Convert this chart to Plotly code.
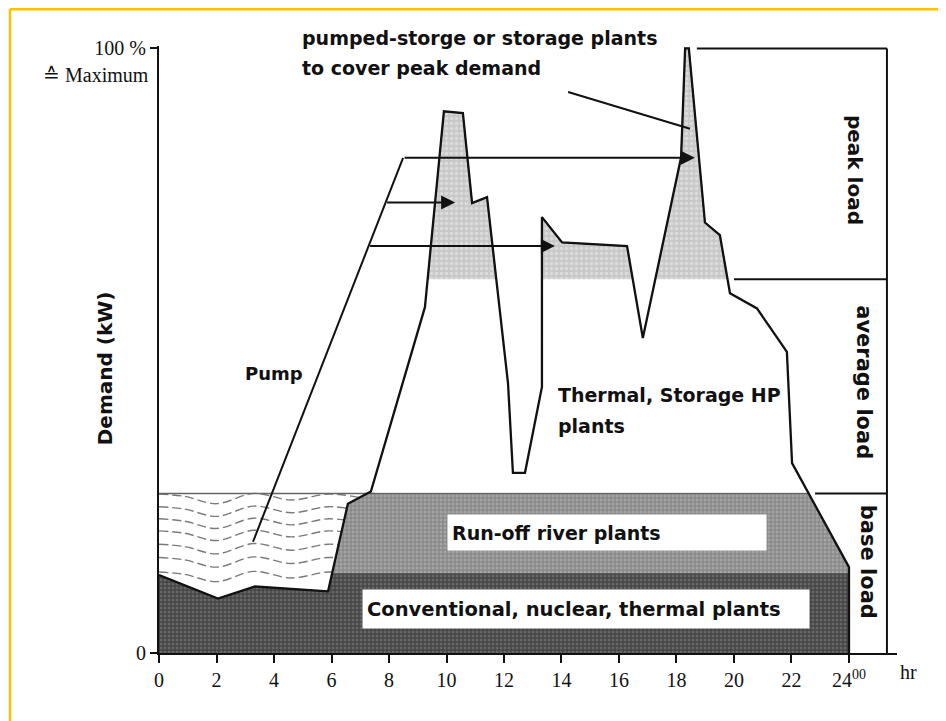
import plotly.graph_objects as go

# Daily load curve (hour of day, % of maximum demand)
hours = [0, 2.05, 3.34, 5.88, 6.57, 7.37, 9.25, 9.91, 10.57, 10.89, 11.41, 12.14, 12.31, 12.73,
         13.32, 13.32, 14.02, 16.28, 16.83, 18.16, 18.3, 18.43, 18.99, 19.51, 19.86, 20.8,
         21.84, 22.02, 24.0, 24.0]
demand = [12.9, 9.0, 11.0, 10.2, 24.7, 26.7, 57.2, 89.6, 89.3, 74.4, 75.4, 44.6, 29.8, 29.8,
          44.0, 72.1, 67.9, 67.3, 52.1, 82.0, 100, 100, 71.2, 69.1, 59.5, 57.0,
          49.8, 31.4, 14.2, 0]

CONV_TOP = 13.2      # conventional / nuclear / thermal block
BASE_TOP = 26.4      # top of base load (run-off river)
PEAK_BOTTOM = 61.8   # bottom of peak load

# pump line and the three transfer arrows
pump_x = [3.27, 8.49]
pump_y = [18.4, 81.9]
arrow_y = [81.9, 74.5, 67.3]
arrow_head_x = [18.64, 10.3, 13.77]

# pointer for the pumped-storage note
pointer_x = [14.23, 18.47]
pointer_y = [92.8, 86.7]

# water texture in the pump reservoir
wave_levels = [25.7, 23.6, 21.6, 19.6, 17.4, 15.2, 12.8]
wave_knots = [0, 0.9, 2.0, 3.3, 4.6, 5.9, 7.0]
wave_offsets = [0.6, 0.2, -1.0, 0.7, -0.4, 0.6, 0.0]

tick_hours = list(range(0, 25, 2))
tick_text = [str(h) for h in tick_hours[:-1]] + ['24<sup>00</sup>']

# right hand bracket
BRACKET_X = 25.32
TOP_LINE_START = 18.71
PEAK_LINE_START = 20.0
BASE_LINE_START = 22.82


def with_crossings(pts, level):
  out = [pts[0]]
  for (x0, y0), (x1, y1) in zip(pts, pts[1:]):
    if (y0 - level) * (y1 - level) < 0:
      t = (level - y0) / (y1 - y0)
      out.append((x0 + t * (x1 - x0), level))
    out.append((x1, y1))
  return out


def runs_above(pts, level):
  runs, cur = [], []
  for x, y in pts:
    if y >= level - 1e-9:
      cur.append((x, y))
    elif cur:
      runs.append(cur)
      cur = []
  if cur:
    runs.append(cur)
  return [r for r in runs if len(r) > 2]


curve = list(zip(hours, demand))
fig = go.Figure()

# wavy water lines (covered afterwards by the base load fills)
for lvl in wave_levels:
  fig.add_trace(go.Scatter(
    x = wave_knots, y = [lvl + o for o in wave_offsets], mode = 'lines',
    line = dict(color = '#7a7a7a', width = 1.4, dash = '9px,4px', shape = 'spline'),
    hoverinfo = 'skip'))

# top of the reservoir
fig.add_trace(go.Scatter(x = [0, 7.5], y = [BASE_TOP, BASE_TOP], mode = 'lines',
  line = dict(color = '#666', width = 1.5), hoverinfo = 'skip'))

# conventional, nuclear, thermal plants
pts = with_crossings(curve, CONV_TOP)
dark = [(0, 0)] + [(x, min(y, CONV_TOP)) for x, y in pts]
fig.add_trace(go.Scatter(
  x = [p[0] for p in dark], y = [p[1] for p in dark], mode = 'lines', fill = 'toself',
  fillcolor = '#4e4e4e', line = dict(color = '#333', width = 1),
  fillpattern = dict(shape = '.', size = 4, solidity = 0.45, fgcolor = '#8a8a8a', bgcolor = '#454545'),
  hoverinfo = 'skip'))

# run-off river plants
pts = with_crossings(with_crossings(curve, CONV_TOP), BASE_TOP)
for run in runs_above(pts, CONV_TOP):
  fig.add_trace(go.Scatter(
    x = [p[0] for p in run], y = [min(p[1], BASE_TOP) for p in run], mode = 'lines',
    fill = 'toself', fillcolor = '#969696', line = dict(color = '#555', width = 1),
    fillpattern = dict(shape = '.', size = 4, solidity = 0.45, fgcolor = '#bdbdbd', bgcolor = '#8a8a8a'),
    hoverinfo = 'skip'))

# peak areas covered by pumped-storage
pts = with_crossings(curve, PEAK_BOTTOM)
for run in runs_above(pts, PEAK_BOTTOM):
  fig.add_trace(go.Scatter(
    x = [p[0] for p in run], y = [p[1] for p in run], mode = 'lines',
    fill = 'toself', fillcolor = '#d0d0d0', line = dict(color = '#444', width = 1.2),
    fillpattern = dict(shape = '.', size = 5, solidity = 0.4, fgcolor = '#eeeeee', bgcolor = '#c8c8c8'),
    hoverinfo = 'skip'))

# load curve
fig.add_trace(go.Scatter(x = hours, y = demand, mode = 'lines',
  line = dict(color = '#111', width = 2.3), hoverinfo = 'skip'))

# pump line
fig.add_trace(go.Scatter(x = pump_x, y = pump_y, mode = 'lines',
  line = dict(color = '#111', width = 2), hoverinfo = 'skip'))

shapes = []
line_style = dict(color = '#111', width = 2)
shapes.append(dict(type = 'line', x0 = BRACKET_X, x1 = BRACKET_X, y0 = 0, y1 = 100, line = line_style))
shapes.append(dict(type = 'line', x0 = TOP_LINE_START, x1 = BRACKET_X, y0 = 100, y1 = 100, line = line_style))
shapes.append(dict(type = 'line', x0 = PEAK_LINE_START, x1 = BRACKET_X, y0 = PEAK_BOTTOM, y1 = PEAK_BOTTOM, line = line_style))
shapes.append(dict(type = 'line', x0 = BASE_LINE_START, x1 = BRACKET_X, y0 = BASE_TOP, y1 = BASE_TOP, line = line_style))
shapes.append(dict(type = 'line', x0 = pointer_x[0], x1 = pointer_x[1], y0 = pointer_y[0], y1 = pointer_y[1], line = line_style))
# yellow frame (top and left)
frame = dict(color = '#FFC000', width = 2.5)
shapes.append(dict(type = 'line', xref = 'paper', yref = 'paper', x0 = -0.2019, x1 = 1.1, y0 = 1.0605, y1 = 1.0605, line = frame))
shapes.append(dict(type = 'line', xref = 'paper', yref = 'paper', x0 = -0.2019, x1 = -0.2019, y0 = 1.0605, y1 = -0.2, line = frame))

annotations = []
# arrows from the pump line
for ay, hx in zip(arrow_y, arrow_head_x):
  tx = pump_x[0] + (ay - pump_y[0]) / (pump_y[1] - pump_y[0]) * (pump_x[1] - pump_x[0])
  annotations.append(dict(x = hx, y = ay, ax = tx, ay = ay, axref = 'x', ayref = 'y',
    text = '', showarrow = True, arrowhead = 2, arrowsize = 1.4, arrowwidth = 2,
    arrowcolor = '#111', standoff = 0))

def sans(size):
  return dict(family = 'DejaVu Sans', size = size, color = '#111')

serif = dict(family = 'Liberation Serif', size = 20, color = '#111')

def note(text, x, y, **kw):
  d = dict(text = text, x = x, y = y, xref = 'x', yref = 'y', showarrow = False,
           xanchor = 'left', yanchor = 'middle', font = sans(19))
  d.update(kw)
  annotations.append(d)

note('<b>pumped-storge or storage plants</b>', 4.9, 1, yref = 'paper', yshift = 8)
note('<b>to cover peak demand</b>', 4.9, 96.8)
note('<b>Pump</b>', 2.92, 46.3, font = sans(18))
note('<b>Thermal, Storage HP</b>', 13.81, 42.7)
note('<b>plants</b>', 13.81, 37.5)
note('<b>Run-off river plants</b>', 10.02, 19.9, bgcolor = 'white', borderpad = 4,
     width = 310, height = 27, align = 'left')
note('<b>Conventional, nuclear, thermal plants</b>', 7.06, 7.3, bgcolor = 'white', borderpad = 4,
     width = 438, height = 30, align = 'left', font = sans(19.5))
note('<b>peak load</b>', 24.21, 79.9, xanchor = 'center', textangle = 90, font = sans(20))
note('<b>average load</b>', 24.52, 44.8, xanchor = 'center', textangle = 90, font = sans(21))
note('<b>base load</b>', 24.66, 15.1, xanchor = 'center', textangle = 90, font = sans(21))
note('<b>Demand (kW)</b>', 0, 47.1, xref = 'paper', xanchor = 'center', xshift = -54,
     textangle = -90, font = sans(20))
note('≙ Maximum', 0, 100, xref = 'paper', xanchor = 'right', xshift = -8, yshift = -27, font = serif)
note('hr', 25.67, 0, yref = 'paper', xshift = 1, yshift = -19, font = serif)

fig.update_layout(
  width = 946, height = 721,
  margin = dict(l = 151, r = 57, t = 38, b = 76),
  plot_bgcolor = 'white', paper_bgcolor = 'white',
  showlegend = False,
  shapes = shapes,
  annotations = annotations,
  xaxis = dict(
    range = [0, 25.67], showgrid = False, zeroline = False,
    showline = True, linecolor = '#111', linewidth = 2,
    ticks = 'outside', ticklen = 8, tickwidth = 2, tickcolor = '#111',
    tickvals = tick_hours, ticktext = tick_text, tickfont = serif
  ),
  yaxis = dict(
    range = [0, 100.4], showgrid = False, zeroline = False,
    showline = True, linecolor = '#111', linewidth = 2,
    ticks = 'outside', ticklen = 7, tickwidth = 2, tickcolor = '#111',
    tickvals = [0, 100], ticktext = ['0', '100 %'], tickfont = serif
  )
)

fig.write_html('out.html')
